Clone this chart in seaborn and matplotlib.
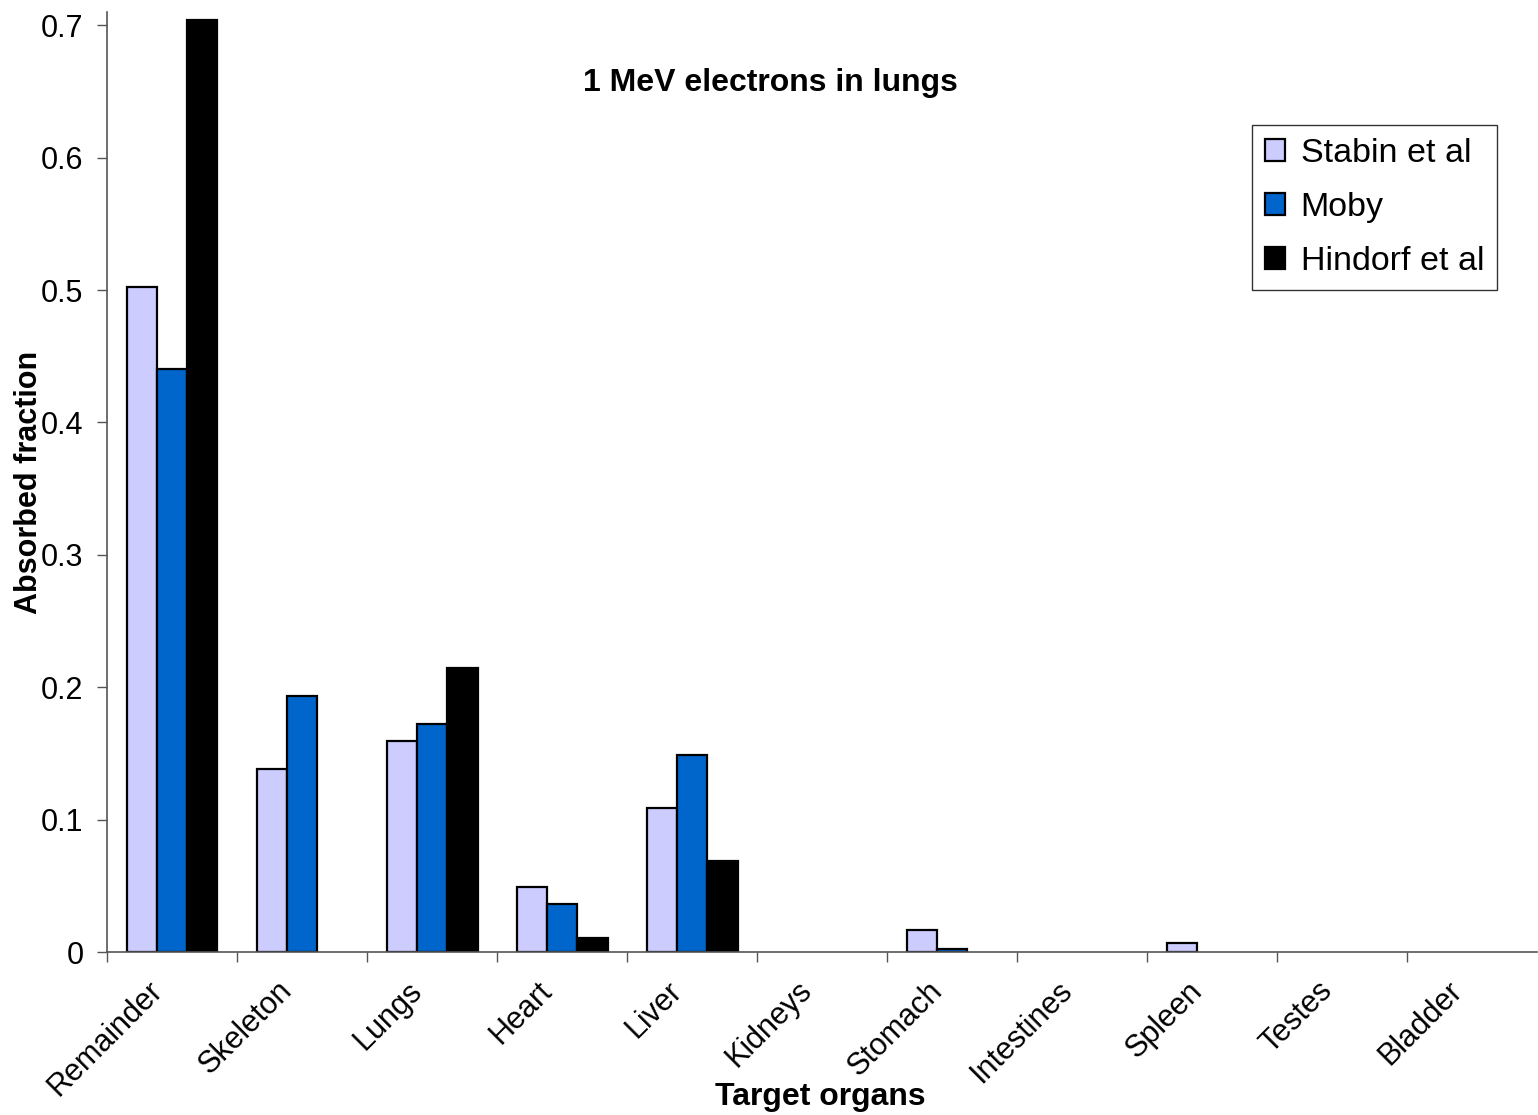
import numpy as np
import pandas as pd
import matplotlib
matplotlib.use('Agg')
import matplotlib.pyplot as plt
import seaborn as sns

organs = ['Remainder', 'Skeleton', 'Lungs', 'Heart', 'Liver', 'Kidneys',
          'Stomach', 'Intestines', 'Spleen', 'Testes', 'Bladder']
stabin = [0.502, 0.138, 0.159, 0.049, 0.109, 0.0, 0.0166, 0.0, 0.0065, 0.0, 0.0]
moby = [0.440, 0.193, 0.172, 0.036, 0.149, 0.0, 0.002, 0.0, 0.0, 0.0, 0.0]
hindorf = [0.704, 0.0, 0.2145, 0.0105, 0.0685, 0.0, 0.0, 0.0, 0.0, 0.0, 0.0]
series = ['Stabin et al', 'Moby', 'Hindorf et al']
colors = ['#CCCCFF', '#0066CC', '#000000']

rows = []
for name, vals in zip(series, [stabin, moby, hindorf]):
    for org, v in zip(organs, vals):
        rows.append({'organ': org, 'source': name, 'value': v})
df = pd.DataFrame(rows)

sns.set_style('white')
plt.rcParams['font.family'] = ['Liberation Sans', 'DejaVu Sans']
plt.rcParams['text.color'] = 'black'
plt.rcParams['axes.labelcolor'] = 'black'
plt.rcParams['xtick.color'] = 'black'
plt.rcParams['ytick.color'] = 'black'

fig = plt.figure(figsize=(15.38, 11.15), dpi=100)
ax = fig.add_axes([107 / 1538, 1 - 952 / 1115, 1 - 108 / 1538, (952 - 12) / 1115])

sns.barplot(data=df, x='organ', y='value', hue='source', order=organs,
            hue_order=series, palette=colors, saturation=1, width=0.7, gap=0,
            edgecolor='black', linewidth=1.6, ax=ax)

# zero-height bars should not leave a stray outline on the axis
for cont in ax.containers:
    for p in cont:
        if p.get_height() == 0:
            p.set_visible(False)

ax.set_ylim(0, 0.71)
ax.set_xlim(-0.5, len(organs) - 0.5)
ax.set_yticks(np.arange(0, 0.71, 0.1))
ax.set_yticklabels(['0', '0.1', '0.2', '0.3', '0.4', '0.5', '0.6', '0.7'], fontsize=22)

# major ticks sit between groups, labels hang off invisible minor ticks
ax.set_xticks(np.arange(len(organs)) - 0.5)
ax.set_xticklabels([])
ax.set_xticks(np.arange(len(organs)) - 0.19, minor=True)
ax.set_xticklabels(organs, minor=True, rotation=45, ha='right',
                   rotation_mode='anchor', fontsize=22)
ax.tick_params(axis='x', which='minor', length=0, pad=17)
ax.tick_params(axis='both', which='major', direction='out', length=7,
               width=1, color='#555555', bottom=True, left=True)
ax.tick_params(axis='y', pad=10)

for s in ['top', 'right']:
    ax.spines[s].set_visible(False)
for s in ['left', 'bottom']:
    ax.spines[s].set_color('#555555')
    ax.spines[s].set_linewidth(1.2)

ax.set_xlabel('')
fig.text(820 / 1538, 1 - 1097 / 1115, 'Target organs', ha='center', va='center',
         fontsize=23, fontweight='bold')
ax.set_ylabel('Absorbed fraction', fontsize=22, fontweight='bold', labelpad=-2)
ax.text(0.464, 0.925, '1 MeV electrons in lungs', transform=ax.transAxes,
        ha='center', va='center', fontsize=23, fontweight='bold')

leg = ax.legend(loc='upper right', bbox_to_anchor=(0.972, 0.880), fontsize=24.5,
                frameon=True, fancybox=False, edgecolor='black',
                handlelength=0.6, handleheight=0.6, handletextpad=0.45,
                labelspacing=0.68, borderpad=0.38, borderaxespad=0)
leg.get_frame().set_linewidth(1.0)

fig.savefig('out.png', dpi=100)
